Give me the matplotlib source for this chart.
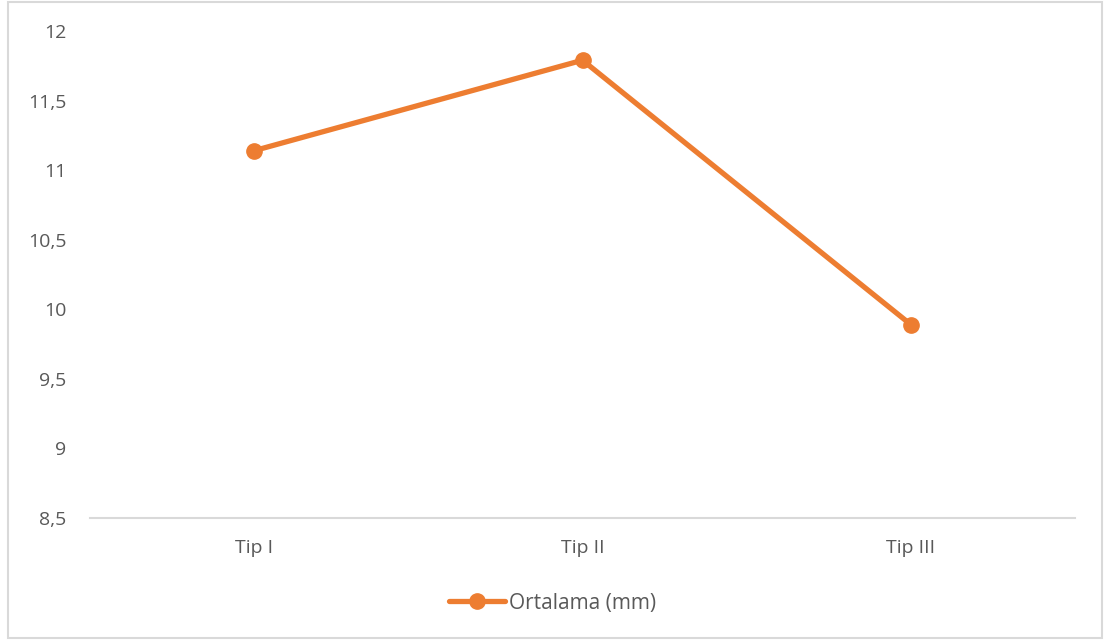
import matplotlib
matplotlib.use("Agg")
import matplotlib.pyplot as plt
from matplotlib.patches import Rectangle
from matplotlib.ticker import FuncFormatter

plt.rcParams['font.family'] = ['Open Sans', 'DejaVu Sans']

categories = ["Tip I", "Tip II", "Tip III"]
ortalama = [11.14, 11.79, 9.89]
y_ticks = [8.5, 9, 9.5, 10, 10.5, 11, 11.5, 12]

text_col = '#595959'
line_col = '#ED7D31'
axis_col = '#D9D9D9'

fig = plt.figure(figsize=(11.05, 6.4), dpi=100)
ax = fig.add_axes([90 / 1105, 1 - 518 / 640, (1075 - 90) / 1105, (518 - 31) / 640])

x = list(range(len(categories)))
ax.plot(x, ortalama, color=line_col, lw=3.8, marker='o', markersize=11,
        solid_capstyle='round', label='Ortalama (mm)')

ax.set_xlim(-0.5, len(categories) - 0.5)
ax.set_ylim(8.5, 12)
ax.set_xticks(x)
ax.set_xticklabels(categories)
ax.set_yticks(y_ticks)
ax.yaxis.set_major_formatter(FuncFormatter(lambda v, p: f"{v:g}".replace('.', ',')))
ax.tick_params(axis='both', length=0, labelsize=14, colors=text_col)
ax.tick_params(axis='x', pad=15)
ax.tick_params(axis='y', pad=17)

for side in ('top', 'right', 'left'):
    ax.spines[side].set_visible(False)
ax.spines['bottom'].set_color(axis_col)
ax.spines['bottom'].set_linewidth(1.5)

leg = fig.legend(loc='center', bbox_to_anchor=(0.5, 1 - 603 / 640), frameon=False,
                 fontsize=15, handlelength=2.7, handletextpad=0.15)
for t in leg.get_texts():
    t.set_color(text_col)

# light chart-area border
fig.patches.append(Rectangle((8 / 1105, 2 / 640), 1094 / 1105, 636 / 640,
                             transform=fig.transFigure, fill=False,
                             edgecolor=axis_col, lw=1.5))

fig.savefig("out.png", dpi=100, facecolor='white')
